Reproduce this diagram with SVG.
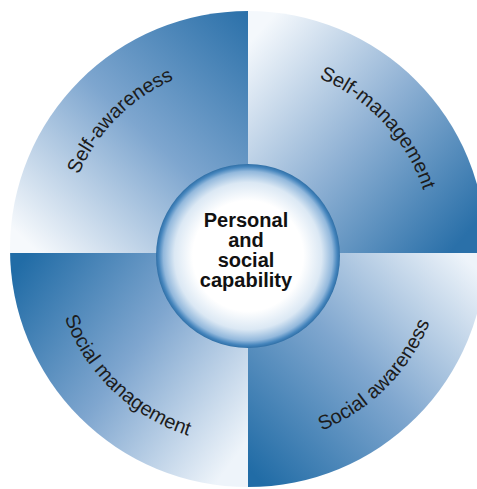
<svg xmlns="http://www.w3.org/2000/svg" width="477" height="489" viewBox="0 0 477 489">
  <style>
    .lbl { font-family: "Liberation Sans", Arial, sans-serif; font-size: 20px; fill: #1c1c1c; }
    .ctr { font-family: "Liberation Sans", Arial, sans-serif; font-size: 20px; font-weight: bold; fill: #111; text-anchor: middle; }
  </style>
  <defs>
    <clipPath id="disc"><circle cx="248" cy="249" r="238"/></clipPath>
    <linearGradient id="gTL" gradientUnits="userSpaceOnUse" x1="248" y1="10" x2="30" y2="245">
      <stop offset="0" stop-color="#2a70a9"/>
      <stop offset="0.5" stop-color="#7ea6cf"/>
      <stop offset="1" stop-color="#f6f9fc"/>
    </linearGradient>
    <linearGradient id="gTR" gradientUnits="userSpaceOnUse" x1="252" y1="40" x2="470" y2="230">
      <stop offset="0" stop-color="#f4f8fc"/>
      <stop offset="0.5" stop-color="#8fb1d4"/>
      <stop offset="1" stop-color="#2a70a9"/>
    </linearGradient>
    <linearGradient id="gBL" gradientUnits="userSpaceOnUse" x1="15" y1="270" x2="248" y2="440">
      <stop offset="0" stop-color="#216ca6"/>
      <stop offset="0.5" stop-color="#7fa6cf"/>
      <stop offset="1" stop-color="#eef4fa"/>
    </linearGradient>
    <linearGradient id="gBR" gradientUnits="userSpaceOnUse" x1="250" y1="470" x2="470" y2="262">
      <stop offset="0" stop-color="#216ca6"/>
      <stop offset="0.5" stop-color="#80a7cf"/>
      <stop offset="1" stop-color="#eef4fa"/>
    </linearGradient>
    <radialGradient id="gC" cx="0.5" cy="0.5" r="0.5">
      <stop offset="0" stop-color="#ffffff"/>
      <stop offset="0.6" stop-color="#ffffff"/>
      <stop offset="0.8" stop-color="#dbe8f4"/>
      <stop offset="0.92" stop-color="#92b8dc"/>
      <stop offset="0.97" stop-color="#4585bd"/>
      <stop offset="1" stop-color="#2f6fa6"/>
    </radialGradient>
    <path id="pTL" d="M63,249 A185,185 0 0 1 248,64"/>
    <path id="pTR" d="M254.5,64.1 A185,185 0 0 1 432.9,255.5"/>
    <path id="pBL" d="M52.1,253.8 A196,196 0 0 0 252.8,444.9"/>
    <path id="pBR" d="M248,445 A196,196 0 0 0 444,249"/>
  </defs>

  <g id="self-awareness">
    <rect x="0" y="0" width="248" height="253" fill="url(#gTL)" clip-path="url(#disc)"/>
    <text class="lbl"><textPath href="#pTL" startOffset="50%" text-anchor="middle">Self-awareness</textPath></text>
  </g>
  <g id="self-management">
    <rect x="248" y="0" width="229" height="253" fill="url(#gTR)" clip-path="url(#disc)"/>
    <text class="lbl"><textPath href="#pTR" startOffset="50%" text-anchor="middle">Self-management</textPath></text>
  </g>
  <g id="social-management">
    <rect x="0" y="253" width="248" height="236" fill="url(#gBL)" clip-path="url(#disc)"/>
    <text class="lbl"><textPath href="#pBL" startOffset="50%" text-anchor="middle">Social management</textPath></text>
  </g>
  <g id="social-awareness">
    <rect x="248" y="253" width="229" height="236" fill="url(#gBR)" clip-path="url(#disc)"/>
    <text class="lbl"><textPath href="#pBR" startOffset="50%" text-anchor="middle">Social awareness</textPath></text>
  </g>

  <g id="connectors"></g>

  <g id="personal-social-capability">
    <circle cx="248" cy="256" r="92" fill="url(#gC)"/>
    <text class="ctr" x="246" y="227">Personal</text>
    <text class="ctr" x="246" y="247">and</text>
    <text class="ctr" x="246" y="267">social</text>
    <text class="ctr" x="246" y="287">capability</text>
  </g>
</svg>
